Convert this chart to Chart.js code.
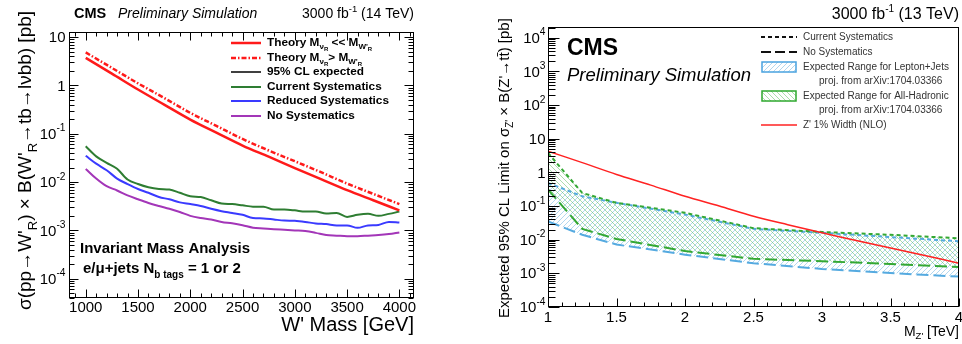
<!DOCTYPE html>
<html>
<head>
<meta charset="utf-8">
<script src="https://cdn.jsdelivr.net/npm/chart.js@4.4.0/dist/chart.umd.min.js"></script>
<style>
  body { margin: 0; background: #fff; width: 962px; height: 344px; overflow: hidden; position: relative; }
  #left { position: absolute; left: 0; top: 0; }
  #right { position: absolute; left: 480px; top: 0; }
</style>
</head>
<body>
<canvas id="left" width="440" height="344"></canvas>
<canvas id="right" width="482" height="344"></canvas>
<script>
var FONT = "'Liberation Sans', Arial, Helvetica, sans-serif";

// ---- left panel: W'R -> tb, invariant mass analysis (14 TeV)
var wMass = [1000,1100,1200,1300,1400,1500,1600,1700,1800,1900,2000,2100,2200,2300,2400,2500,
             2600,2700,2800,2900,3000,3100,3200,3300,3400,3500,3600,3700,3800,3900,4000];
var currentSyst = [0.055,0.034,0.025,0.0188,0.0113,0.0091,0.0078,0.0072,0.0070,0.0060,0.0051,0.0049,
                   0.0042,0.0036,0.0035,0.0033,0.0031,0.0031,0.0027,0.0027,0.0026,0.00245,0.00245,
                   0.00224,0.0023,0.0019,0.0021,0.0022,0.0020,0.0022,0.00245];
var reducedSyst = [0.035,0.024,0.0176,0.0118,0.0091,0.0072,0.0060,0.0049,0.0044,0.0038,0.0035,0.0032,
                   0.0028,0.0025,0.0023,0.0021,0.0018,0.00177,0.00168,0.0016,0.00158,0.0015,0.00139,
                   0.00135,0.00127,0.00127,0.00113,0.00127,0.0013,0.0015,0.00145];
var noSyst = [0.0187,0.0118,0.0082,0.0067,0.0053,0.0044,0.0037,0.0032,0.0028,0.0024,0.0020,0.0018,
              0.00168,0.0015,0.0014,0.00128,0.00114,0.0011,0.00106,0.00103,0.0010,0.00097,0.00089,
              0.0008,0.00078,0.00076,0.00076,0.00078,0.0008,0.00084,0.00091];
var theoryMass = [1000,1250,1500,1750,2000,2250,2500,2750,3000,3250,3500,3750,4000];
var theoryLight = [3.7,1.75,0.82,0.40,0.196,0.105,0.057,0.0335,0.0195,0.0115,0.0068,0.0042,0.0026];
var theoryHeavy = [4.8,2.3,1.1,0.55,0.27,0.145,0.078,0.045,0.027,0.016,0.0093,0.0057,0.0035];
var wTicks = [1000,1500,2000,2500,3000,3500,4000];
var wDecades = [-4,-3,-2,-1,0,1];

// ---- right panel: Z' -> ttbar (13 TeV)
var zMass = [1,1.25,1.5,2,2.5,3,3.5,4];
var hadCurrent = [3.8,0.245,0.125,0.063,0.022,0.017,0.014,0.011];
var hadNoSyst = [0.31,0.021,0.0105,0.0046,0.0027,0.0023,0.0019,0.00155];
var ljCurrent = [0.49,0.195,0.125,0.056,0.021,0.016,0.012,0.009];
var ljNoSyst = [0.035,0.014,0.0072,0.0036,0.002,0.00135,0.00102,0.0008];
var zTheoryMass = [1,1.25,1.5,1.75,2,2.25,2.5,2.75,3,3.25,3.5,3.75,4];
var zTheory = [4.3,1.95,0.87,0.42,0.195,0.1,0.05,0.028,0.016,0.0095,0.0057,0.0034,0.002];
var zTicks = [1,1.5,2,2.5,3,3.5,4];
var zDecades = [-4,-3,-2,-1,0,1,2,3,4];

function pts(xs, ys) {
  return xs.map(function(x, i){ return {x: x, y: ys[i]}; });
}
function fnt(size, weight, style) {
  return (style || 'normal') + ' ' + (weight || 'normal') + ' ' + size + 'px ' + FONT;
}
// draws a list of [text, font, dy] pieces one after another
function rich(ctx, x, y, parts, align) {
  var w = 0;
  parts.forEach(function(p){ ctx.font = p[1]; w += ctx.measureText(p[0]).width; });
  var cx = align === 'right' ? x - w : (align === 'center' ? x - w / 2 : x);
  parts.forEach(function(p){
    ctx.font = p[1];
    ctx.fillText(p[0], cx, y + (p[2] || 0));
    cx += ctx.measureText(p[0]).width;
  });
  return w;
}
function powLabel(ctx, x, y, e, size) {
  var parts;
  if (e === 0) parts = [['1', fnt(size)]];
  else if (e === 1) parts = [['10', fnt(size)]];
  else parts = [['10', fnt(size)], [String(e), fnt(size * 0.68), -size * 0.42]];
  rich(ctx, x, y, parts, 'right');
}
function hatch(ctx, color, dir) {
  var c = document.createElement('canvas');
  c.width = 5; c.height = 5;
  var g = c.getContext('2d');
  g.strokeStyle = color; g.lineWidth = 1;
  g.beginPath();
  if (dir > 0) {
    g.moveTo(-1, 6); g.lineTo(6, -1);
  } else {
    g.moveTo(-1, -1); g.lineTo(6, 6);
  }
  g.stroke();
  return ctx.createPattern(c, 'repeat');
}

// ROOT-style frame with inward ticks
function drawFrame(chart, o) {
  var ctx = chart.ctx, a = chart.chartArea, xs = chart.scales.x, ys = chart.scales.y;
  var L = Math.round(a.left) + 0.5, R = Math.round(a.right) - 0.5;
  var T = Math.round(a.top) + 0.5, B = Math.round(a.bottom) - 0.5;
  ctx.save();
  ctx.strokeStyle = '#000'; ctx.lineWidth = 1; ctx.setLineDash([]);
  ctx.strokeRect(L, T, R - L, B - T);
  ctx.beginPath();
  var step = o.xMinor, first = Math.ceil(xs.min / step - 1e-6) * step;
  for (var v = first; v <= xs.max + 1e-9; v += step) {
    var px = Math.round(xs.getPixelForValue(v)) + 0.5;
    var major = o.xTicks.some(function(t){ return Math.abs(t - v) < step / 10; });
    var len = major ? o.xMajorLen : o.xMinorLen;
    ctx.moveTo(px, B); ctx.lineTo(px, B - len);
    if (o.mirror) { ctx.moveTo(px, T); ctx.lineTo(px, T + len); }
  }
  var e0 = Math.floor(Math.log10(ys.min)), e1 = Math.ceil(Math.log10(ys.max));
  for (var e = e0; e <= e1; e++) {
    for (var m = 1; m <= 9; m++) {
      var val = m * Math.pow(10, e);
      if (val < ys.min || val > ys.max) continue;
      var py = Math.round(ys.getPixelForValue(val)) + 0.5;
      var l = m === 1 ? o.yMajorLen : o.yMinorLen;
      ctx.moveTo(L, py); ctx.lineTo(L + l, py);
      if (o.mirror) { ctx.moveTo(R, py); ctx.lineTo(R - l, py); }
    }
  }
  ctx.stroke();
  // tick labels
  ctx.fillStyle = '#000';
  ctx.textBaseline = 'middle';
  o.xTicks.forEach(function(t){
    ctx.font = fnt(o.xLabelSize);
    ctx.textAlign = 'center';
    ctx.fillText(String(t), xs.getPixelForValue(t), B + o.xLabelDy);
  });
  ctx.textAlign = 'left';
  o.decades.forEach(function(e){
    powLabel(ctx, L - o.yLabelPad, ys.getPixelForValue(Math.pow(10, e)) + 1, e, o.yLabelSize);
  });
  ctx.restore();
}

function legendLine(ctx, x0, x1, y, color, width, dash) {
  ctx.save();
  ctx.strokeStyle = color; ctx.lineWidth = width; ctx.setLineDash(dash || []);
  ctx.beginPath(); ctx.moveTo(x0, y); ctx.lineTo(x1, y); ctx.stroke();
  ctx.restore();
}

// ================= left chart =================
var leftDeco = {
  id: 'leftDeco',
  afterDraw: function(chart) {
    var ctx = chart.ctx;
    drawFrame(chart, { xMinor: 100, xTicks: wTicks, xMajorLen: 8, xMinorLen: 4, yMajorLen: 9, yMinorLen: 5,
                       mirror: true, decades: wDecades, xLabelSize: 15, xLabelDy: 10, yLabelPad: 4, yLabelSize: 15 });
    ctx.save();
    ctx.fillStyle = '#000'; ctx.textBaseline = 'middle'; ctx.textAlign = 'left';
    // header
    ctx.font = fnt(14.5, 'bold'); ctx.fillText('CMS', 74, 14);
    ctx.font = fnt(14, 'normal', 'italic'); ctx.fillText('Preliminary Simulation', 118, 14);
    rich(ctx, 414, 14, [['3000 fb', fnt(14)], ['-1', fnt(9.5), -5], [' (14 TeV)', fnt(14)]], 'right');
    // axis titles
    rich(ctx, 414, 325, [["W' Mass [GeV]", fnt(20)]], 'right');
    ctx.save();
    ctx.translate(26, 310); ctx.rotate(-Math.PI / 2);
    rich(ctx, 0, 0, [["\u03c3(pp\u2192W'", fnt(19)], ['R', fnt(13), 7], [") \u00d7 B(W'", fnt(19)], ['R', fnt(13), 7],
                     ['\u2192tb\u2192l\u03bdbb) [pb]', fnt(19)]], 'left');
    ctx.restore();
    // legend
    var lx0 = 231, lx1 = 261, tx = 267, b = fnt(11.8, 'bold'), s = fnt(8, 'bold'), ss = fnt(6, 'bold');
    legendLine(ctx, lx0, lx1, 43, '#ff1a1a', 2.5);
    rich(ctx, tx, 43, [['Theory M', b], ['\u03bd', s, 4], ['R', ss, 6], [' << M', b], ["W'", s, 4], ['R', ss, 6]]);
    legendLine(ctx, lx0, lx1, 58, '#ff1a1a', 2.5, [5, 2, 1.5, 2]);
    rich(ctx, tx, 58, [['Theory M', b], ['\u03bd', s, 4], ['R', ss, 6], ['> M', b], ["W'", s, 4], ['R', ss, 6]]);
    legendLine(ctx, lx0, lx1, 72, '#000', 1.5);
    rich(ctx, tx, 72, [['95% CL expected', b]]);
    legendLine(ctx, lx0, lx1, 87, '#2e7d32', 2);
    rich(ctx, tx, 87, [['Current Systematics', b]]);
    legendLine(ctx, lx0, lx1, 101, '#3a3aff', 2);
    rich(ctx, tx, 101, [['Reduced Systematics', b]]);
    legendLine(ctx, lx0, lx1, 116, '#a336b8', 2);
    rich(ctx, tx, 116, [['No Systematics', b]]);
    // analysis label
    rich(ctx, 80, 249, [['Invariant Mass Analysis', fnt(15, 'bold')]]);
    rich(ctx, 83, 269, [['e/\u03bc+jets N', fnt(15, 'bold')], ['b tags', fnt(10, 'bold'), 6], [' = 1 or 2', fnt(15, 'bold')]]);
    ctx.restore();
  }
};

new Chart(document.getElementById('left'), {
  type: 'line',
  data: {
    datasets: [
      { data: pts(theoryMass, theoryLight), borderColor: '#ff1a1a', borderWidth: 2.5 },
      { data: pts(theoryMass, theoryHeavy), borderColor: '#ff1a1a', borderWidth: 2.5, borderDash: [5, 2, 1.5, 2] },
      { data: pts(wMass, currentSyst), borderColor: '#2e7d32', borderWidth: 2 },
      { data: pts(wMass, reducedSyst), borderColor: '#3a3aff', borderWidth: 2 },
      { data: pts(wMass, noSyst), borderColor: '#a336b8', borderWidth: 2 }
    ]
  },
  options: {
    responsive: false,
    animation: false,
    layout: { padding: { left: 69, right: 26, top: 32, bottom: 46 } },
    elements: { point: { radius: 0 }, line: { tension: 0.3, fill: false, cubicInterpolationMode: 'monotone' } },
    plugins: { legend: { display: false }, tooltip: { enabled: false } },
    scales: {
      x: { type: 'linear', min: 840, max: 4140, display: false },
      y: { type: 'logarithmic', min: 4e-5, max: 12.7, display: false }
    }
  },
  plugins: [leftDeco]
});

// ================= right chart =================
var rctx = document.getElementById('right').getContext('2d');
var blueHatch = hatch(rctx, 'rgba(100,175,225,0.5)', 1);
var greenHatch = hatch(rctx, 'rgba(70,180,70,0.45)', -1);

var rightDeco = {
  id: 'rightDeco',
  afterDraw: function(chart) {
    var ctx = chart.ctx;
    drawFrame(chart, { xMinor: 0.1, xTicks: zTicks, xMajorLen: 8, xMinorLen: 4, yMajorLen: 11, yMinorLen: 7,
                       mirror: false, decades: zDecades, xLabelSize: 15, xLabelDy: 11, yLabelPad: 3, yLabelSize: 15 });
    ctx.save();
    ctx.fillStyle = '#000'; ctx.textBaseline = 'middle'; ctx.textAlign = 'left';
    rich(ctx, 479, 15, [['3000 fb', fnt(16)], ['-1', fnt(10), -6], [' (13 TeV)', fnt(16)]], 'right');
    ctx.font = fnt(23, 'bold'); ctx.fillText('CMS', 87, 49);
    ctx.font = fnt(18.5, 'normal', 'italic'); ctx.fillText('Preliminary Simulation', 87, 76);
    // axis titles
    rich(ctx, 479, 332, [['M', fnt(14)], ["Z'", fnt(9.5), 4], [' [TeV]', fnt(14)]], 'right');
    ctx.save();
    ctx.translate(25, 318); ctx.rotate(-Math.PI / 2);
    rich(ctx, 0, 0, [['Expected 95% CL Limit on \u03c3', fnt(15)], ["Z'", fnt(10), 5],
                     [" \u00d7 B(Z'\u2192t", fnt(15)], ['t\u0304', fnt(15)], [') [pb]', fnt(15)]], 'left');
    ctx.restore();
    // legend
    var lx0 = 281, lx1 = 317, tx = 323, f = fnt(10);
    ctx.fillStyle = '#333';
    legendLine(ctx, lx0, lx1, 37, '#111', 2, [4, 3]);
    rich(ctx, tx, 37, [['Current Systematics', f]]);
    legendLine(ctx, lx0, lx1, 52, '#111', 2, [10, 4]);
    rich(ctx, tx, 52, [['No Systematics', f]]);
    ctx.fillStyle = blueHatch; ctx.fillRect(lx0 + 1, 62, 34, 10);
    ctx.strokeStyle = '#4aa3df'; ctx.lineWidth = 1.5; ctx.strokeRect(lx0 + 1, 62, 34, 10);
    ctx.fillStyle = '#333';
    rich(ctx, tx, 67, [['Expected Range for Lepton+Jets', f]]);
    rich(ctx, 339, 81, [['proj. from arXiv:1704.03366', f]]);
    ctx.fillStyle = greenHatch; ctx.fillRect(lx0 + 1, 91, 34, 10);
    ctx.strokeStyle = '#2ea82e'; ctx.lineWidth = 1.5; ctx.strokeRect(lx0 + 1, 91, 34, 10);
    ctx.fillStyle = '#333';
    rich(ctx, tx, 96, [['Expected Range for All-Hadronic', f]]);
    rich(ctx, 339, 110, [['proj. from arXiv:1704.03366', f]]);
    legendLine(ctx, lx0, lx1, 125, '#ff2222', 1.5);
    rich(ctx, tx, 125, [["Z' 1% Width (NLO)", f]]);
    ctx.restore();
  }
};

new Chart(rctx, {
  type: 'line',
  data: {
    datasets: [
      { data: pts(zTheoryMass, zTheory), borderColor: '#ff2222', borderWidth: 1.5, tension: 0.3 },
      { data: pts(zMass, hadCurrent), borderColor: '#33a833', borderWidth: 2, borderDash: [4, 3],
        fill: { target: 2 }, backgroundColor: greenHatch },
      { data: pts(zMass, hadNoSyst), borderColor: '#33a833', borderWidth: 2, borderDash: [12, 5] },
      { data: pts(zMass, ljCurrent), borderColor: '#55aae0', borderWidth: 2, borderDash: [4, 3],
        fill: { target: 4 }, backgroundColor: blueHatch },
      { data: pts(zMass, ljNoSyst), borderColor: '#55aae0', borderWidth: 2, borderDash: [12, 5] }
    ]
  },
  options: {
    responsive: false,
    animation: false,
    layout: { padding: { left: 68, right: 3, top: 27, bottom: 37 } },
    elements: { point: { radius: 0 }, line: { tension: 0, fill: false } },
    plugins: { legend: { display: false }, tooltip: { enabled: false }, filler: { drawTime: 'beforeDatasetsDraw' } },
    scales: {
      x: { type: 'linear', min: 1, max: 4, display: false },
      y: { type: 'logarithmic', min: 1e-4, max: 2.1e4, display: false }
    }
  },
  plugins: [rightDeco]
});
</script>
</body>
</html>
